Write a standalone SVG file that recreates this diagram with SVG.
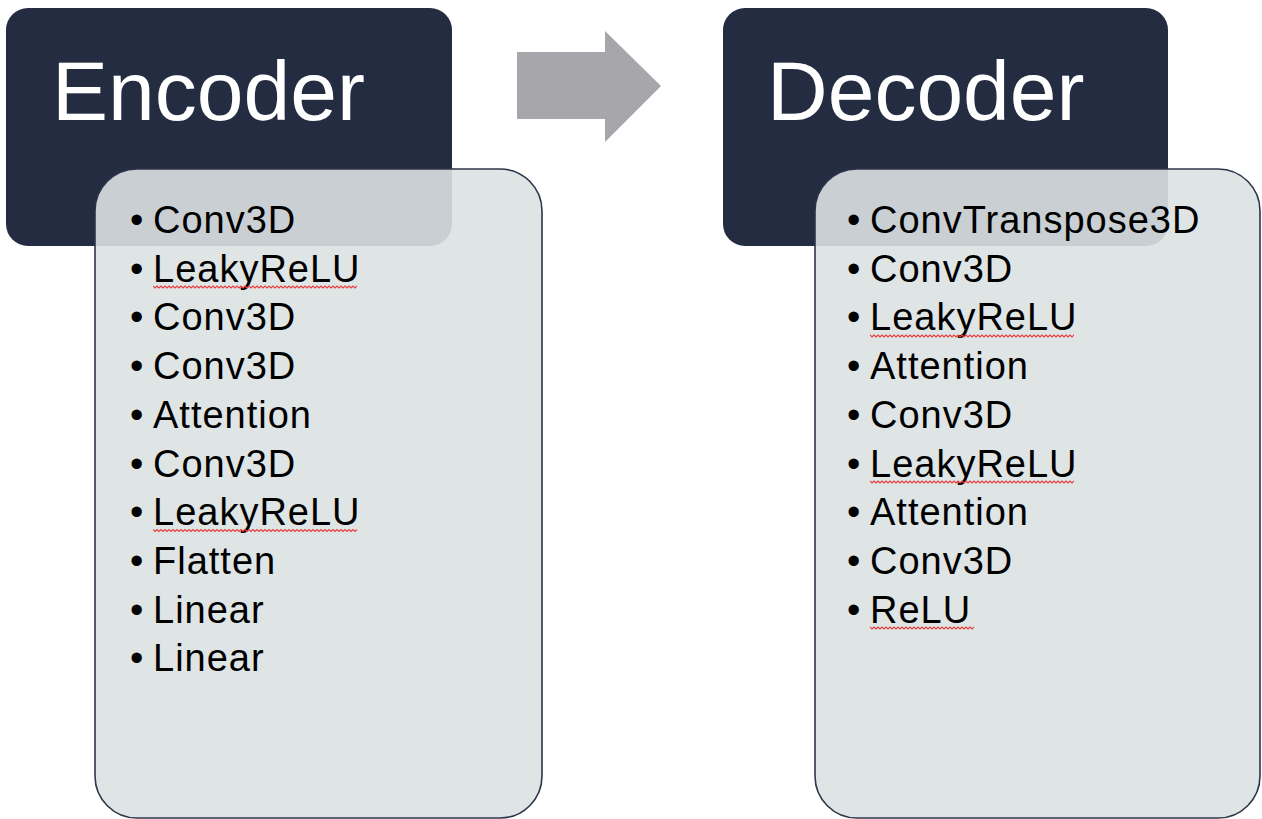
<svg xmlns="http://www.w3.org/2000/svg" width="1262" height="819" viewBox="0 0 1262 819">
  <style>
    .head { fill: #232c41; }
    .title { font-family: "Liberation Sans", Arial, sans-serif; font-size: 84px; fill: #ffffff; }
    .panel { fill: #dce1e2; fill-opacity: 0.9; stroke: #2e3549; stroke-width: 1.6; }
    .item { font-family: "Liberation Sans", Arial, sans-serif; font-size: 38px; fill: #000000; letter-spacing: 1px; }
    .squig { fill: none; stroke: #e84040; stroke-width: 1.2; }
  </style>
  <defs>
    <path id="sq" d="M0,0 l2,2 l2,-2 l2,2 l2,-2 l2,2 l2,-2 l2,2 l2,-2 l2,2 l2,-2 l2,2 l2,-2 l2,2 l2,-2 l2,2 l2,-2 l2,2 l2,-2 l2,2 l2,-2 l2,2 l2,-2 l2,2 l2,-2 l2,2 l2,-2 l2,2 l2,-2 l2,2 l2,-2 l2,2 l2,-2 l2,2 l2,-2 l2,2 l2,-2 l2,2 l2,-2 l2,2 l2,-2 l2,2 l2,-2 l2,2 l2,-2 l2,2 l2,-2 l2,2 l2,-2 l2,2 l2,-2 l2,2 l2,-2 l2,2 l2,-2 l2,2 l2,-2 l2,2 l2,-2 l2,2 l2,-2 l2,2 l2,-2 l2,2 l2,-2 l2,2 l2,-2 l2,2 l2,-2 l2,2 l2,-2 l2,2 l2,-2 l2,2 l2,-2 l2,2 l2,-2 l2,2 l2,-2 l2,2 l2,-2 l2,2 l2,-2 l2,2 l2,-2 l2,2 l2,-2 l2,2 l2,-2 l2,2 l2,-2 l2,2 l2,-2 l2,2 l2,-2 l2,2 l2,-2 l2,2 l2,-2 l2,2 l2,-2 l2,2 l2,-2 l2,2 l2,-2 l2,2 l2,-2 l2,2 l2,-2 l2,2 l2,-2 l2,2"/>
    <clipPath id="sqLong"><rect x="0" y="-2" width="204" height="6"/></clipPath>
    <clipPath id="sqShort"><rect x="0" y="-2" width="104" height="6"/></clipPath>
  </defs>
  <rect width="1262" height="819" fill="#ffffff"/>

  <g id="encoder">
    <rect class="head" x="6" y="8" width="446" height="238" rx="22"/>
    <text class="title" x="52" y="120">Encoder</text>
    <rect class="panel" x="95" y="169" width="447" height="649" rx="42"/>
    <g class="item">
      <text x="130" y="233">•</text><text x="153" y="233">Conv3D</text>
      <text x="130" y="281.7">•</text><text x="153" y="281.7">LeakyReLU</text>
      <text x="130" y="330.4">•</text><text x="153" y="330.4">Conv3D</text>
      <text x="130" y="379">•</text><text x="153" y="379">Conv3D</text>
      <text x="130" y="427.8">•</text><text x="153" y="427.8">Attention</text>
      <text x="130" y="476.5">•</text><text x="153" y="476.5">Conv3D</text>
      <text x="130" y="525.2">•</text><text x="153" y="525.2">LeakyReLU</text>
      <text x="130" y="574">•</text><text x="153" y="574">Flatten</text>
      <text x="130" y="622.6">•</text><text x="153" y="622.6">Linear</text>
      <text x="130" y="671.3">•</text><text x="153" y="671.3">Linear</text>
    </g>
    <g class="squig">
      <use href="#sq" x="153" y="286" clip-path="url(#sqLong)"/>
      <use href="#sq" x="153" y="529.5" clip-path="url(#sqLong)"/>
    </g>
  </g>

  <g id="connectors">
    <polygon points="517,52 605,52 605,31 661,86 605,142 605,119 517,119" fill="#a7a7ab"/>
  </g>

  <g id="decoder">
    <rect class="head" x="723" y="8" width="445" height="238" rx="22"/>
    <text class="title" x="767" y="120">Decoder</text>
    <rect class="panel" x="815" y="169" width="445" height="649" rx="42"/>
    <g class="item">
      <text x="847" y="233">•</text><text x="870" y="233">ConvTranspose3D</text>
      <text x="847" y="281.7">•</text><text x="870" y="281.7">Conv3D</text>
      <text x="847" y="330.4">•</text><text x="870" y="330.4">LeakyReLU</text>
      <text x="847" y="379">•</text><text x="870" y="379">Attention</text>
      <text x="847" y="427.8">•</text><text x="870" y="427.8">Conv3D</text>
      <text x="847" y="476.5">•</text><text x="870" y="476.5">LeakyReLU</text>
      <text x="847" y="525.2">•</text><text x="870" y="525.2">Attention</text>
      <text x="847" y="574">•</text><text x="870" y="574">Conv3D</text>
      <text x="847" y="622.6">•</text><text x="870" y="622.6">ReLU</text>
    </g>
    <g class="squig">
      <use href="#sq" x="870" y="335" clip-path="url(#sqLong)"/>
      <use href="#sq" x="870" y="481" clip-path="url(#sqLong)"/>
      <use href="#sq" x="870" y="627" clip-path="url(#sqShort)"/>
    </g>
  </g>
</svg>
